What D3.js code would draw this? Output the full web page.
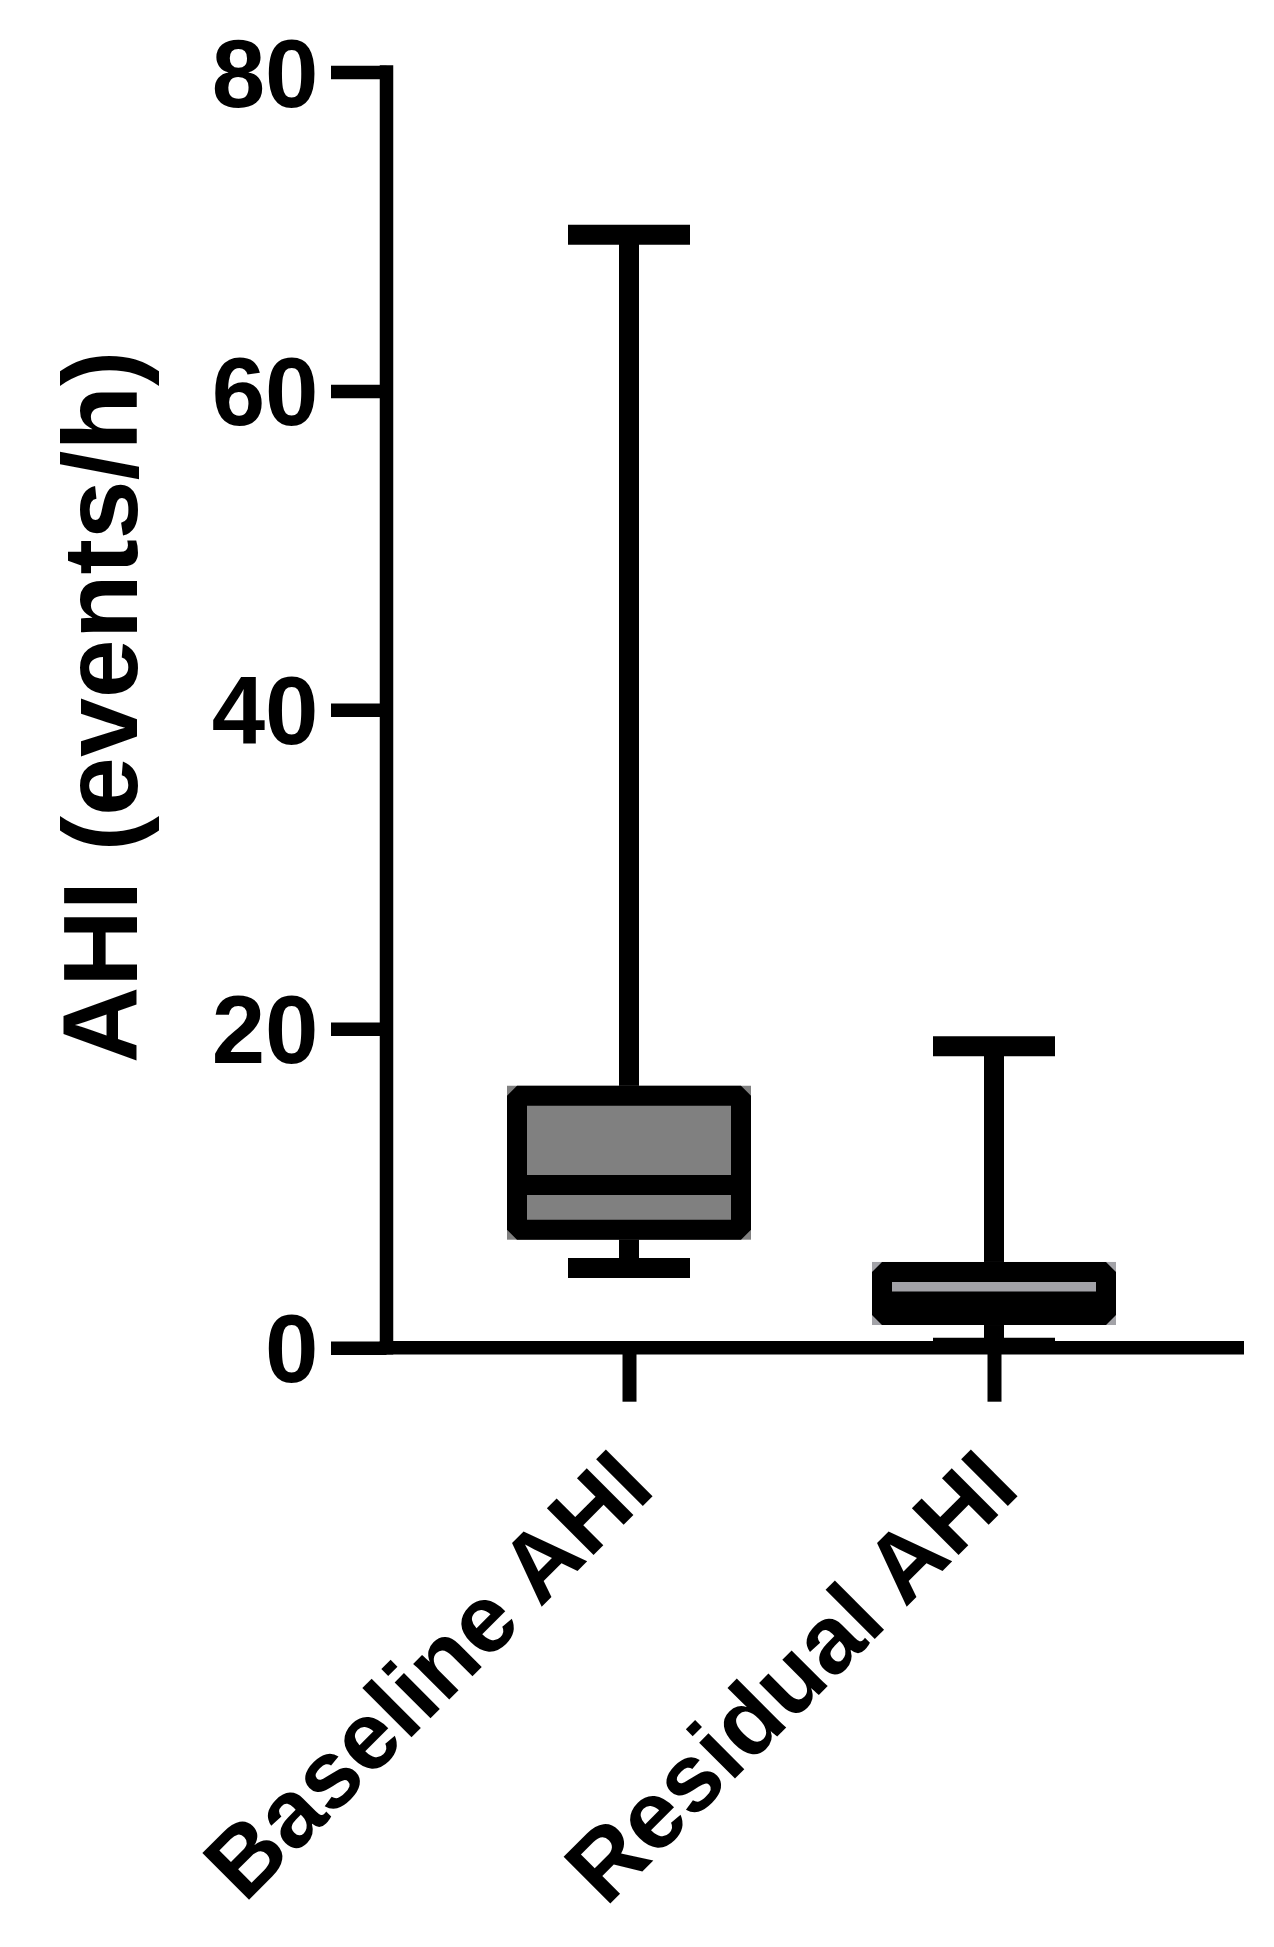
<!DOCTYPE html>
<html>
<head>
<meta charset="utf-8">
<script src="https://cdn.jsdelivr.net/npm/d3@7"></script>
<style>
  body { margin: 0; background: #fff; }
  text { font-family: 'Liberation Sans', Arial, sans-serif; font-weight: bold; fill: #000; }
</style>
</head>
<body>
<div class="container"></div>
<script>
// values
const categories = ['Baseline AHI', 'Residual AHI'];
const whiskerLow = [5.0, 0];
const quartile1 = [7.4, 2.05];
const medians = [10.2, 2.9];
const quartile3 = [15.8, 4.75];
const whiskerHigh = [69.8, 18.9];
const yTicks = [0, 20, 40, 60, 80];

const boxFills = ['#808080', '#a2a2a7'];

const w = 1274;
const h = 1947;
const axisX = 386.5;
const axisRight = 1244;
const lw = 20; // box / whisker line width
const axisW = 13.5;

const boxes = categories.map((c, i) => ({
  cat: c,
  lo: whiskerLow[i],
  q1: quartile1[i],
  med: medians[i],
  q3: quartile3[i],
  hi: whiskerHigh[i],
  fill: boxFills[i]
}));

const svg = d3
  .select('.container')
  .append('svg')
  .attr('width', w)
  .attr('height', h);

const yScale = d3.scaleLinear().domain([0, 80]).range([1347.7, 72]);
const xScale = d3.scalePoint().domain(categories).range([629, 994]);

const y0 = yScale(0);

svg
  .append('clipPath')
  .attr('id', 'plot-clip')
  .append('rect')
  .attr('x', 0)
  .attr('y', 0)
  .attr('width', w)
  .attr('height', y0);

const plot = svg.append('g').attr('clip-path', 'url(#plot-clip)');

const boxHalf = 112;
const capHalf = 61;

const g = plot
  .selectAll('g.box')
  .data(boxes)
  .enter()
  .append('g')
  .attr('class', 'box');

// whiskers
g.append('line')
  .attr('x1', (d) => xScale(d.cat))
  .attr('x2', (d) => xScale(d.cat))
  .attr('y1', (d) => yScale(d.lo))
  .attr('y2', (d) => yScale(d.hi))
  .attr('stroke', '#000')
  .attr('stroke-width', lw);

// caps
['lo', 'hi'].forEach((k) => {
  g.append('line')
    .attr('x1', (d) => xScale(d.cat) - capHalf)
    .attr('x2', (d) => xScale(d.cat) + capHalf)
    .attr('y1', (d) => yScale(d[k]))
    .attr('y2', (d) => yScale(d[k]))
    .attr('stroke', '#000')
    .attr('stroke-width', lw);
});

// fill underlay (shows in the bevelled corners)
g.append('rect')
  .attr('x', (d) => xScale(d.cat) - boxHalf - lw / 2)
  .attr('y', (d) => yScale(d.q3) - lw / 2)
  .attr('width', boxHalf * 2 + lw)
  .attr('height', (d) => yScale(d.q1) - yScale(d.q3) + lw)
  .attr('fill', (d) => d.fill);

g.append('rect')
  .attr('x', (d) => xScale(d.cat) - boxHalf)
  .attr('y', (d) => yScale(d.q3))
  .attr('width', boxHalf * 2)
  .attr('height', (d) => yScale(d.q1) - yScale(d.q3))
  .attr('fill', (d) => d.fill)
  .attr('stroke', '#000')
  .attr('stroke-width', lw)
  .attr('stroke-linejoin', 'bevel');

g.append('line')
  .attr('x1', (d) => xScale(d.cat) - boxHalf)
  .attr('x2', (d) => xScale(d.cat) + boxHalf)
  .attr('y1', (d) => yScale(d.med))
  .attr('y2', (d) => yScale(d.med))
  .attr('stroke', '#000')
  .attr('stroke-width', lw);

// y axis
const yAxis = d3.axisLeft(yScale).tickValues(yTicks).tickSize(55.5).tickPadding(0).tickFormat(d3.format('d'));
const yG = svg
  .append('g')
  .attr('id', 'y-axis')
  .attr('transform', 'translate(' + axisX + ',0)')
  .call(yAxis);
yG.select('.domain').remove();
yG.selectAll('.tick line').attr('stroke', '#000').attr('stroke-width', axisW);
yG.selectAll('.tick text')
  .attr('x', -68)
  .attr('dy', null)
  .attr('y', 34)
  .style('font-size', '96px')
  .style('font-family', "'Liberation Sans', Arial, sans-serif")
  .style('font-weight', 'bold');

svg
  .append('line')
  .attr('x1', axisX)
  .attr('x2', axisX)
  .attr('y1', yScale(80) - axisW / 2)
  .attr('y2', y0 + axisW / 2)
  .attr('stroke', '#000')
  .attr('stroke-width', axisW);

// x axis
svg
  .append('line')
  .attr('x1', axisX - axisW / 2)
  .attr('x2', axisRight)
  .attr('y1', y0)
  .attr('y2', y0)
  .attr('stroke', '#000')
  .attr('stroke-width', axisW);

const xAxis = d3.axisBottom(xScale).tickSize(54).tickFormat('');
const xG = svg
  .append('g')
  .attr('id', 'x-axis')
  .attr('transform', 'translate(0,' + y0 + ')')
  .call(xAxis);
xG.select('.domain').remove();
xG.selectAll('.tick line').attr('stroke', '#000').attr('stroke-width', 14);

svg
  .selectAll('text.xlab')
  .data(categories)
  .enter()
  .append('text')
  .attr('class', 'xlab')
  .attr('transform', (d) => 'translate(' + (xScale(d) + 28) + ',' + (y0 + 144) + ') rotate(-45)')
  .attr('text-anchor', 'end')
  .style('font-size', '96px')
  .text((d) => d);

svg
  .append('text')
  .attr('transform', 'translate(137,707) rotate(-90)')
  .attr('text-anchor', 'middle')
  .style('font-size', '106px')
  .text('AHI (events/h)');
</script>
</body>
</html>
